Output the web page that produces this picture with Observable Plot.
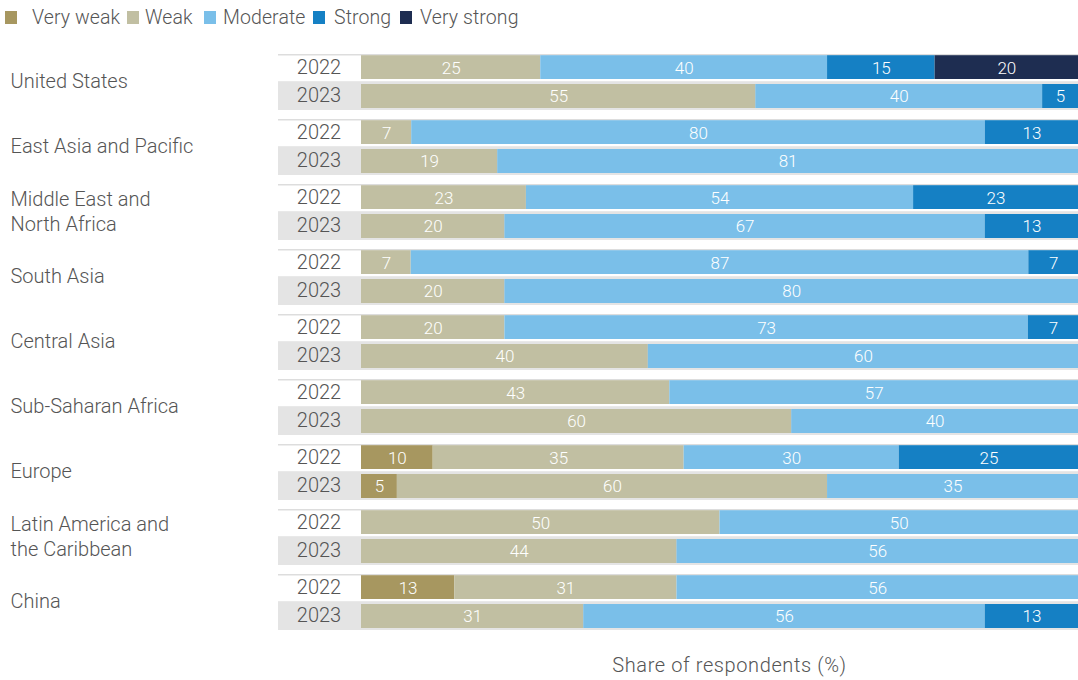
<!DOCTYPE html>
<html><head><meta charset="utf-8">
<script src="https://cdn.jsdelivr.net/npm/d3@7"></script>
<script src="https://cdn.jsdelivr.net/npm/@observablehq/plot@0.6"></script>
<style>
body{margin:0;background:#fff;font-family:Roboto,"Liberation Sans",sans-serif;font-weight:300;}
#wrap{position:relative;width:1078px;height:680px;overflow:hidden;}
#legend{height:34px;position:relative;}
#legend > *{position:absolute;left:5px;top:0;height:34px;min-height:34px;margin:0;font-size:19.5px;color:#555;font-family:Roboto,"Liberation Sans",sans-serif;font-weight:300;letter-spacing:0.1px;display:flex;align-items:center;flex-wrap:nowrap;}
#legend .lg-swatch{margin:0;display:inline-flex;align-items:center;flex-shrink:0;white-space:nowrap;}
#caption{position:absolute;top:653px;left:729.5px;transform:translateX(-50%);font-size:20px;line-height:24px;color:#555;white-space:nowrap;letter-spacing:0.6px;}
svg text{font-weight:300;}
</style>
</head><body>
<div id="wrap"><div id="legend"></div><div id="chart"></div><div id="caption">Share of respondents (%)</div></div>
<script>
const regions = ["United States","East Asia and Pacific","Middle East and North Africa","South Asia","Central Asia","Sub-Saharan Africa","Europe","Latin America and the Caribbean","China"];
const regionLabels = ["United States","East Asia and Pacific","Middle East and\nNorth Africa","South Asia","Central Asia","Sub-Saharan Africa","Europe","Latin America and\nthe Caribbean","China"];
const years = ["2022","2023"];
const levels = ["Very weak","Weak","Moderate","Strong","Very strong"];
const colors = ["#a79760","#c1bfa2","#7abfe9","#1580c4","#1e2d51"];
// values per region, order [2022, 2023] for each region
const veryWeak   = [0,0, 0,0, 0,0, 0,0, 0,0, 0,0, 10,5, 0,0, 13,0];
const weak       = [25,55, 7,19, 23,20, 7,20, 20,40, 43,60, 35,60, 50,44, 31,31];
const moderate   = [40,40, 80,81, 54,67, 87,80, 73,60, 57,40, 30,35, 50,56, 56,56];
const strong     = [15,5, 13,0, 23,13, 7,0, 7,0, 0,0, 25,0, 0,0, 0,13];
const veryStrong = [20,0, 0,0, 0,0, 0,0, 0,0, 0,0, 0,0, 0,0, 0,0];

const series = [veryWeak, weak, moderate, strong, veryStrong];
const data = [];
regions.forEach((r,i)=>years.forEach((y,j)=>levels.forEach((l,k)=>{
  const v = series[k][i*2+j];
  if (v>0) data.push({region:r, year:y, level:l, value:v});
})));
const rows = regions.flatMap(r=>years.map(y=>({region:r, year:y})));
const regionRows = regions.map((r,i)=>({region:r, label:regionLabels[i]}));
const color = {domain:levels, range:colors};

const legend = Plot.legend({color, legend:"swatches", swatchWidth:12, swatchHeight:13, className:"lg"});
document.getElementById("legend").append(legend);
// legend item spacing (start-to-start widths and swatch-to-text gaps)
const itemWidths = [122, 77, 109, 87, null];
const swatchGaps = [15, 6, 7, 9, 8];
legend.querySelectorAll(".lg-swatch").forEach((el,i)=>{
  if (itemWidths[i] != null) el.style.width = itemWidths[i] + "px";
  const s = el.querySelector("svg");
  if (s) s.style.marginRight = swatchGaps[i] + "px";
});

const d22 = data.filter(d=>d.year==="2022");
const d23 = data.filter(d=>d.year==="2023");
const stackOpts = {x:"value", y:"year", fy:"region", offset:"normalize"};

const chart = Plot.plot({
  width:1078, height:646,
  marginTop:19, marginBottom:49, marginLeft:361, marginRight:0,
  x:{domain:[0,1], axis:null},
  y:{domain:years, axis:null, padding:0},
  fy:{domain:regions, axis:null, paddingInner:0.141, paddingOuter:0},
  color,
  style:{fontFamily:'Roboto,"Liberation Sans",sans-serif', fontSize:"20px", background:"white"},
  marks:[
    Plot.barX(rows.filter(d=>d.year==="2023"), {x1:0, x2:1, y:"year", fy:"region", fill:"#e4e4e4", insetLeft:-83, insetTop:-0.8}),
    Plot.barX(rows.filter(d=>d.year==="2022"), {x1:0, x2:1, y:"year", fy:"region", fill:"#dddddd", insetLeft:-83, insetBottom:26.5}),
    Plot.barX(d22, Plot.stackX({...stackOpts, fill:"level", insetTop:1.2, insetBottom:3})),
    Plot.barX(d23, Plot.stackX({...stackOpts, fill:"level", insetTop:2, insetBottom:2})),
    Plot.text(data, Plot.stackX({...stackOpts, z:"level", text:"value", fill:"white", fontSize:17, letterSpacing:"0.3px"})),
    Plot.text(rows, {y:"year", fy:"region", text:"year", frameAnchor:"left", dx:-42.5, dy:-0.5, textAnchor:"middle", fill:"#555", fontSize:20, letterSpacing:"0.4px"}),
    Plot.text(regionRows, {fy:"region", text:"label", frameAnchor:"left", dx:-351, dy:-2.5, textAnchor:"start", fill:"#555", fontSize:20, lineHeight:1.25, letterSpacing:"0.45px"})
  ]
});
document.getElementById("chart").append(chart);
</script>
</body></html>
